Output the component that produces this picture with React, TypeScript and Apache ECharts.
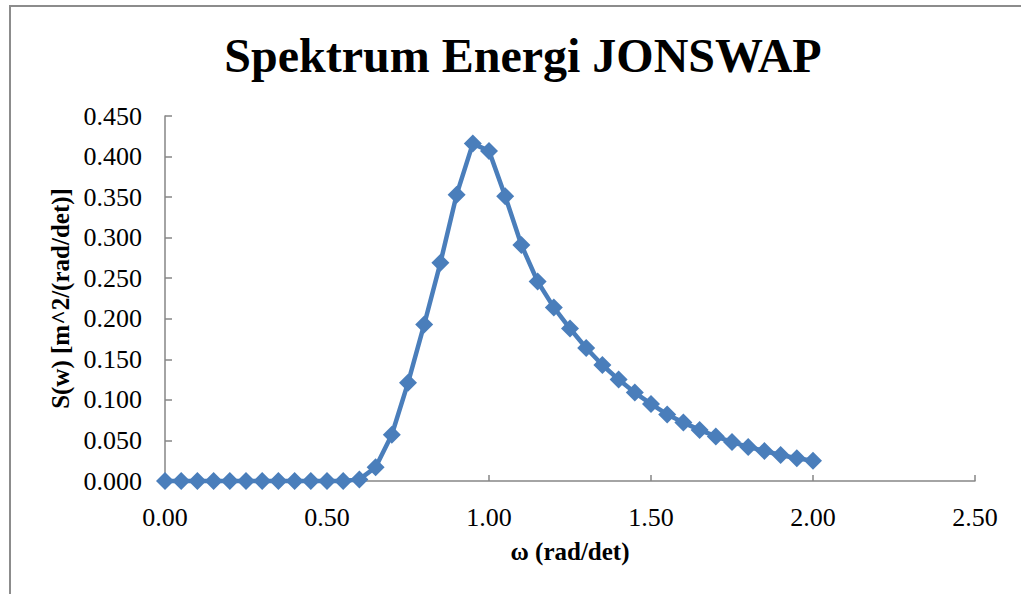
import React, { useEffect, useRef } from "react";
import * as echarts from "echarts";

const omega: number[] = [
  0.0, 0.05, 0.1, 0.15, 0.2, 0.25, 0.3, 0.35, 0.4, 0.45, 0.5, 0.55,
  0.6, 0.65, 0.7, 0.75, 0.8, 0.85, 0.9, 0.95, 1.0, 1.05, 1.1, 1.15,
  1.2, 1.25, 1.3, 1.35, 1.4, 1.45, 1.5, 1.55, 1.6, 1.65, 1.7, 1.75,
  1.8, 1.85, 1.9, 1.95, 2.0,
];

const spectrum: number[] = [
  0, 0, 0, 0, 0, 0, 0, 0, 0, 0, 0, 0,
  0.002, 0.017, 0.057, 0.121, 0.193, 0.269, 0.353, 0.416, 0.407, 0.351, 0.291, 0.246,
  0.214, 0.188, 0.164, 0.143, 0.125, 0.109, 0.095, 0.082, 0.072, 0.063, 0.055, 0.048,
  0.042, 0.037, 0.032, 0.028, 0.025,
];

const titleText = "Spektrum Energi JONSWAP";
const xName = "ω (rad/det)";
const yName = "S(w) [m^2/(rad/det)]";

const FONT = "'Liberation Serif', 'Times New Roman', serif";

export default function App() {
  const ref = useRef<HTMLDivElement>(null);

  useEffect(() => {
    if (!ref.current) return;
    const chart = echarts.init(ref.current, undefined, { renderer: "svg" });
    const data = omega.map((x, i) => [x, spectrum[i]]);
    chart.setOption({
      animation: false,
      backgroundColor: "#ffffff",
      title: {
        text: titleText,
        left: 518,
        top: 26,
        textAlign: "center",
        textStyle: {
          fontFamily: FONT,
          fontWeight: "bold",
          fontSize: 48,
          color: "#000",
        },
      },
      graphic: [
        {
          type: "rect",
          shape: { x: 10, y: 6, width: 1100, height: 700 },
          style: { fill: "none", stroke: "#8c8c8c", lineWidth: 2 },
          silent: true,
        },
      ],
      grid: { left: 165, right: 46, top: 116, bottom: 113, containLabel: false },
      xAxis: {
        type: "value",
        min: 0,
        max: 2.5,
        interval: 0.5,
        name: xName,
        nameLocation: "middle",
        nameGap: 58,
        nameTextStyle: { fontFamily: FONT, fontWeight: "bold", fontSize: 25, color: "#000" },
        axisLine: { show: true, lineStyle: { color: "#868686", width: 1.5 } },
        axisTick: { show: true, inside: true, length: 6, lineStyle: { color: "#868686", width: 1.5 } },
        axisLabel: {
          margin: 23,
          fontFamily: FONT,
          fontSize: 26,
          color: "#000",
          formatter: (v: number) => v.toFixed(2),
        },
        splitLine: { show: false },
      },
      yAxis: {
        type: "value",
        min: 0,
        max: 0.45,
        interval: 0.05,
        name: yName,
        nameLocation: "middle",
        nameGap: 92,
        nameTextStyle: { fontFamily: FONT, fontWeight: "bold", fontSize: 25, color: "#000" },
        axisLine: { show: true, lineStyle: { color: "#868686", width: 1.5 } },
        axisTick: { show: true, inside: true, length: 7, lineStyle: { color: "#868686", width: 1.5 } },
        axisLabel: {
          margin: 23,
          fontFamily: FONT,
          fontSize: 26,
          color: "#000",
          formatter: (v: number) => v.toFixed(3),
        },
        splitLine: { show: false },
      },
      series: [
        {
          type: "line",
          data,
          clip: false,
          symbol: "diamond",
          symbolSize: 18,
          lineStyle: { color: "#4a7ebb", width: 4.5 },
          itemStyle: { color: "#4a7ebb" },
        },
      ],
    });
    return () => chart.dispose();
  }, []);

  return (
    <div
      ref={ref}
      style={{ position: "fixed", left: 0, top: 0, width: 1021, height: 594 }}
    />
  );
}
